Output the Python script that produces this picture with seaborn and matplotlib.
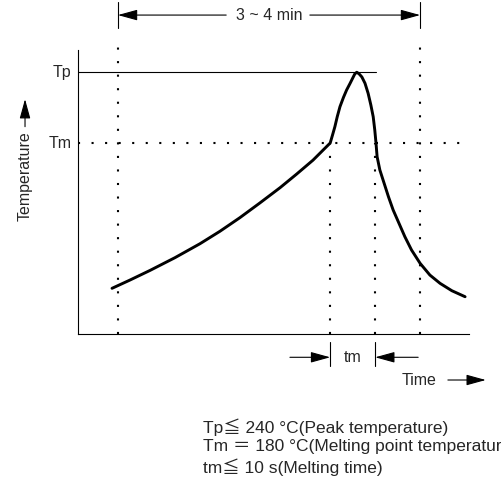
import numpy as np
import pandas as pd
import matplotlib.pyplot as plt
import seaborn as sns

sns.set_theme(style="white")
plt.rcParams["font.family"] = ["Liberation Sans Narrow", "Liberation Sans", "Noto Sans CJK JP", "DejaVu Sans"]

# Reflow profile (time in arbitrary units, temperature in degC)
time = [8.7, 13.3, 18.4, 24.8, 31.2, 36.3, 41.4, 46.5, 51.7, 55.9, 60.1, 64.5,
        65.1, 65.7, 66.3, 67.0, 67.9, 68.7, 69.6, 70.4, 70.8, 71.3, 71.9, 72.6,
        73.4, 74.2, 74.9, 75.5, 75.9, 76.2,
        76.5, 77.2, 78.3, 79.4, 80.6, 82.1, 83.6, 85.3, 87.5, 90.0, 92.6, 95.6, 99.0]
temp = [57.2, 64.2, 72.3, 83.1, 94.9, 105.4, 116.9, 129.3, 142.3, 153.7, 165.5, 180,
        186.8, 193.8, 202.2, 210.7, 218.6, 224.8, 230.5, 235.8, 238.4, 239.8, 238.4, 235.8,
        230.5, 222.0, 212.1, 202.2, 191.0, 180.5,
        168.4, 157.2, 145.9, 134.6, 123.4, 112.1, 100.8, 89.6, 78.3, 68.4, 61.4, 55.2, 50.1]

Tp = 240
Tm = 180
win_start, win_end = 10.2, 87.5      # 3 ~ 4 min window
melt_on, melt_off = 64.5, 76.0       # tm
tp_line_end = 76.2
tm_line_end = 97.7

notes = ["Tp≦ 240 °C(Peak temperature)",
         "Tm ＝ 180 °C(Melting point temperature)",
         "tm≦ 10 s(Melting time)"]

df = pd.DataFrame({"time": time, "temp": temp})

fig = plt.figure(figsize=(5.01, 4.88), dpi=100)
ax = fig.add_axes([78 / 501, 154 / 488, 391 / 501, 284 / 488])
ax.set_xlim(0, 100)
ax.set_ylim(18.6, 258.6)

dot = dict(color="black", lw=1.5, ls=(0, (1, 5.5)), clip_on=False)

# dotted guides
ax.plot([0, tm_line_end], [Tm, Tm], **dot)
for x in [win_start, win_end]:
    ax.plot([x, x], [18.6, 261], **dot)
for x in [melt_on, melt_off]:
    ax.plot([x, x], [18.6, Tm], **dot)

# peak line
ax.plot([0, tp_line_end], [Tp, Tp], color="black", lw=0.8)

sns.lineplot(data=df, x="time", y="temp", sort=False, estimator=None,
             color="black", lw=2.1, ax=ax)
ax.lines[-1].set_solid_joinstyle("round")
ax.lines[-1].set_solid_capstyle("round")

# axes look
ax.set_xticks([])
ax.set_yticks([])
ax.set_xlabel("")
ax.set_ylabel("")
for s in ["top", "right"]:
    ax.spines[s].set_visible(False)
for s in ["left", "bottom"]:
    ax.spines[s].set_color("black")
    ax.spines[s].set_linewidth(0.8)

fs = 11.5
ax.text(-1.6, Tp, "Tp", ha="right", va="center", fontsize=fs)
ax.text(-1.6, Tm, "Tm", ha="right", va="center", fontsize=fs)

tr = ax.get_xaxis_transform()
head = dict(arrowstyle="-|>,head_length=1.2,head_width=0.33", color="black",
            lw=0.8, shrinkA=0, shrinkB=0, mutation_scale=10)

# 3 ~ 4 min span
for x in [win_start, win_end]:
    ax.plot([x, x], [1.077, 1.169], transform=tr, color="black", lw=0.8, clip_on=False)
ax.text((win_start + win_end) / 2, 1.123, "3 ~ 4 min", transform=tr,
        ha="center", va="center", fontsize=fs)
ax.annotate("", xy=(win_start, 1.123), xytext=(37.9, 1.123), xycoords=tr,
            textcoords=tr, arrowprops=head)
ax.annotate("", xy=(win_end, 1.123), xytext=(59.3, 1.123), xycoords=tr,
            textcoords=tr, arrowprops=head)

# tm span
for x in [melt_on, melt_off]:
    ax.plot([x, x], [-0.028, -0.113], transform=tr, color="black", lw=0.8, clip_on=False)
ax.text((melt_on + melt_off) / 2, -0.082, "tm", transform=tr,
        ha="center", va="center", fontsize=fs)
ax.annotate("", xy=(melt_on, -0.082), xytext=(54.2, -0.082), xycoords=tr,
            textcoords=tr, arrowprops=head)
ax.annotate("", xy=(melt_off, -0.082), xytext=(87.0, -0.082), xycoords=tr,
            textcoords=tr, arrowprops=head)

# Time label
ax.text(91.8, -0.162, "Time", transform=tr, ha="right", va="center", fontsize=fs)
ax.annotate("", xy=(104.3, -0.162), xytext=(94.6, -0.162), xycoords=tr,
            textcoords=tr, arrowprops=head)

# Temperature label
ax.text(-0.1355, 0.555, "Temperature", transform=ax.transAxes, rotation=90,
        ha="center", va="center", fontsize=fs)
ax.annotate("", xy=(-0.1355, 0.827), xytext=(-0.1355, 0.73), xycoords="axes fraction",
            textcoords="axes fraction", arrowprops=head)

# notes (the last line runs past the right edge, as in the source)
for i, line in enumerate(notes):
    fig.text(203 / 501, (488 - 427 - 20 * i) / 488, line, ha="left", va="center",
             fontsize=12.5)

fig.savefig("out.png", dpi=100)
